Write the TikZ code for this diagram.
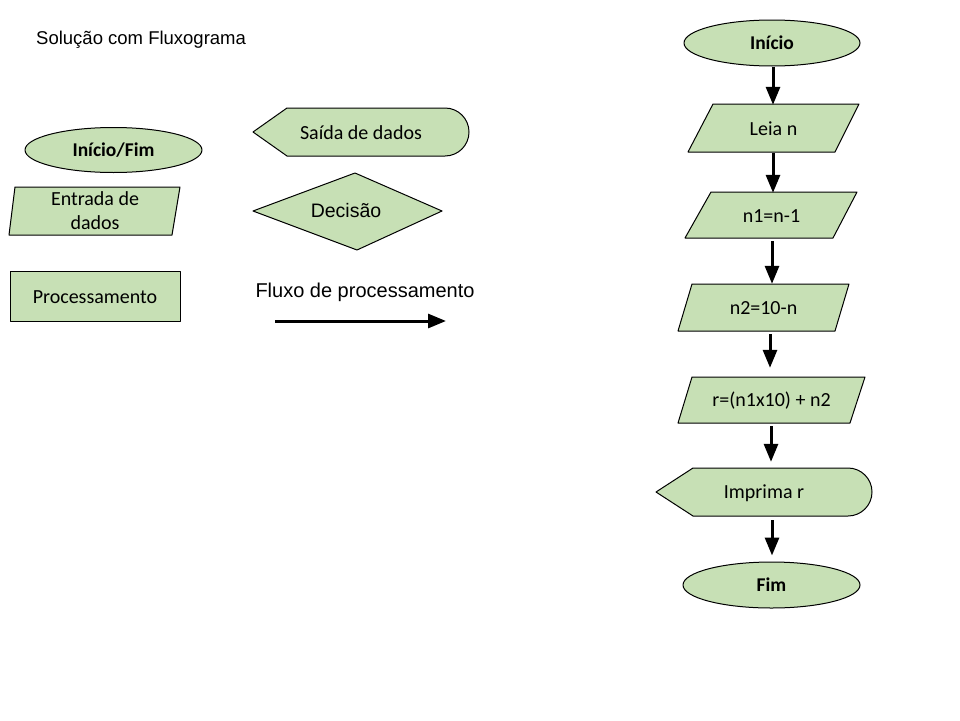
\documentclass[tikz,border=0pt]{standalone}
\usepackage{fontspec}
\setmainfont{Carlito}
\newfontfamily\arial{Liberation Sans}
\usetikzlibrary{shapes.geometric,arrows.meta}
\definecolor{shapegreen}{RGB}{199,224,181}
\tikzset{
  shapefill/.style={draw=black, line width=1pt, fill=shapegreen, line join=round},
  term/.style={shapefill, ellipse, inner sep=0pt, font=\fontsize{19.5}{23}\selectfont\bfseries},
  lbl/.style={inner sep=0pt, align=center, font=\fontsize{20}{24}\selectfont},
  flow/.style={line width=3pt, -{Triangle[width=14pt,length=18pt]}},
}
\begin{document}
\begin{tikzpicture}[x=1pt,y=-1pt]
\useasboundingbox (0,0) rectangle (960,720);
\fill[white] (0,0) rectangle (960,720);

% title
\node[anchor=west, inner sep=0pt, font=\arial\fontsize{18.5}{22}\selectfont] (title) at (36,40) {Solução com Fluxograma};

% ---------- legend ----------
\node[term, minimum width=177, minimum height=45] (lterm) at (113.5,150) {Início/Fim};

\draw[shapefill] (15,187) -- (180,187) -- (172,235) -- (9,235) -- cycle;
\node[lbl, minimum width=165, minimum height=48] (lin) at (95,211) {Entrada de\\dados};

\draw[shapefill] (10,271) rectangle (180,321);
\node[lbl, minimum width=170, minimum height=50] (lproc) at (95,297) {Processamento};

\draw[shapefill] (253,132) -- (287,108) -- (445,108) arc(-90:90:24) -- (287,156) -- cycle;
\node[lbl] (lout) at (361,133) {Saída de dados};

\draw[shapefill] (253,211) -- (355,173) -- (442,211) -- (357,250) -- cycle;
\node[lbl, font=\arial\fontsize{19.5}{22}\selectfont] (ldec) at (346,211) {Decisão};

\node[inner sep=0pt, font=\arial\fontsize{20}{24}\selectfont] (lflow) at (365,292) {Fluxo de processamento};
\coordinate (la) at (275,321);
\coordinate (lb) at (446,321);
\draw[line width=3pt, -{Triangle[width=14pt,length=18pt]}] (la) -- (lb);

% ---------- flowchart ----------
\node[term, minimum width=176, minimum height=46] (ini) at (772,43) {Início};

\draw[shapefill] (713,104) -- (859,104) -- (835,152) -- (688,152) -- cycle;
\node[lbl, minimum width=150, minimum height=48] (leia) at (773.5,129) {Leia n};

\draw[shapefill] (711,192) -- (857,192) -- (833,238) -- (685,238) -- cycle;
\node[lbl, minimum width=150, minimum height=46] (n1) at (771.5,216) {n1=n-1};

\draw[shapefill] (692,284) -- (849,284) -- (835,331) -- (678,331) -- cycle;
\node[lbl, minimum width=150, minimum height=47] (n2) at (763.5,308.5) {n2=10-n};

\draw[shapefill] (692,377) -- (865,377) -- (850,423) -- (678,423) -- cycle;
\node[lbl, minimum width=160, minimum height=46] (r) at (771.5,401) {r=(n1x10) + n2};

\draw[shapefill] (656,492) -- (693,468) -- (848,468) arc(-90:90:24) -- (693,516) -- cycle;
\node[lbl, minimum width=150, minimum height=48] (imp) at (764,493) {Imprima r};

\node[term, minimum width=177, minimum height=46] (fim) at (771.5,585) {Fim};

% connectors
\draw[flow] (ini.south -| 773,0) -- (leia.north -| 773,0);
\draw[flow] (leia.south -| 773,0) -- (n1.north -| 773,0);
\draw[flow] ([yshift=-2pt]n1.south -| 772,0) -- ([yshift=1pt]n2.north -| 772,0);
\draw[flow] ([yshift=-2pt]n2.south -| 770,0) -- ([yshift=10pt]r.north -| 770,0);
\draw[flow] ([yshift=-2pt]r.south -| 771,0) -- ([yshift=7pt]imp.north -| 771,0);
\draw[flow] ([yshift=-3pt]imp.south -| 772,0) -- ([yshift=6pt]fim.north -| 772,0);
\end{tikzpicture}
\end{document}
